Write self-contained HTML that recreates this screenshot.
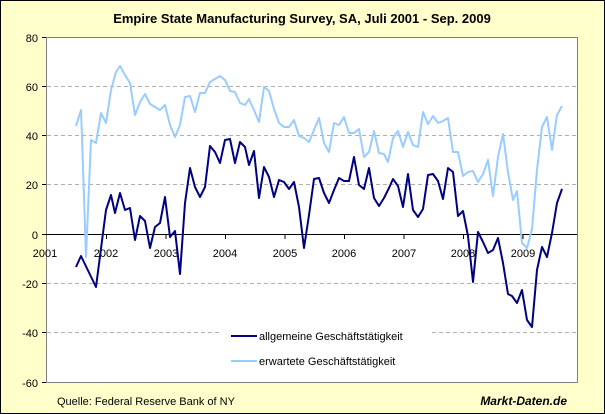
<!DOCTYPE html>
<html><head><meta charset="utf-8"><style>
body{margin:0;padding:0;background:#fff}
svg{display:block;font-family:"Liberation Sans",Arial,sans-serif}
</style></head><body>
<svg width="605" height="414" viewBox="0 0 605 414" xmlns="http://www.w3.org/2000/svg">
<rect x="0.5" y="0.5" width="604" height="413" fill="#FFFFCC" stroke="#000"/>
<text x="302" y="23" text-anchor="middle" font-size="13" font-weight="bold">Empire State Manufacturing Survey, SA, Juli 2001 - Sep. 2009</text>
<rect x="46.5" y="37.5" width="531" height="345" fill="#fff" stroke="#808080"/>
<g stroke="#b0b0b0" stroke-dasharray="4,3" stroke-width="1">
<line x1="47" x2="577" y1="86.5" y2="86.5"/>
<line x1="47" x2="577" y1="135.5" y2="135.5"/>
<line x1="47" x2="577" y1="184.5" y2="184.5"/>
<line x1="47" x2="577" y1="283.5" y2="283.5"/>
<line x1="47" x2="577" y1="332.5" y2="332.5"/>
</g>
<g stroke="#000">
<line x1="46" x2="577" y1="234.5" y2="234.5"/>
<line x1="42" x2="46" y1="37.5" y2="37.5"/><line x1="42" x2="46" y1="86.5" y2="86.5"/>
<line x1="42" x2="46" y1="135.5" y2="135.5"/><line x1="42" x2="46" y1="184.5" y2="184.5"/>
<line x1="42" x2="46" y1="234.5" y2="234.5"/><line x1="42" x2="46" y1="283.5" y2="283.5"/>
<line x1="42" x2="46" y1="332.5" y2="332.5"/><line x1="42" x2="46" y1="382.5" y2="382.5"/>
<line x1="106.5" x2="106.5" y1="234" y2="239"/><line x1="166" x2="166" y1="234" y2="239"/>
<line x1="225.5" x2="225.5" y1="234" y2="239"/><line x1="285" x2="285" y1="234" y2="239"/>
<line x1="344.5" x2="344.5" y1="234" y2="239"/><line x1="404" x2="404" y1="234" y2="239"/>
<line x1="463.5" x2="463.5" y1="234" y2="239"/><line x1="523" x2="523" y1="234" y2="239"/>
</g>
<g font-size="11" text-anchor="end">
<text x="38" y="42">80</text><text x="38" y="91">60</text><text x="38" y="140">40</text>
<text x="38" y="189">20</text><text x="38" y="239">0</text><text x="38" y="288">-20</text>
<text x="38" y="337">-40</text><text x="38" y="387">-60</text>
</g>
<g font-size="11" text-anchor="middle">
<text x="45" y="257">2001</text><text x="106" y="257">2002</text><text x="166" y="257">2003</text>
<text x="225" y="257">2004</text><text x="285" y="257">2005</text><text x="344" y="257">2006</text>
<text x="404" y="257">2007</text><text x="463" y="257">2008</text><text x="523" y="257">2009</text>
</g>
<polyline fill="none" stroke="#99CCFF" stroke-width="2" stroke-linejoin="round" points="76,126 81,110 82,137 86,257 91,140 96,143 101,113 106,123 111,90 116,72 120,66 125,75 130,83 135,115 140,102 145,94 150,104 155,107 160,110 165,105 170,125 175,137 180,125 185,97 190,96 195,112 200,93 205,93 210,82 215,79 220,76 225,80 230,91 235,92 240,103 245,105 249,99 254,110 259,122 264,87 269,91 274,109 279,123 284,127 289,127 294,120 299,136 304,138 309,142 314,130 319,118 324,143 329,152 334,123 339,125 344,117 349,133 354,133 359,129 364,157 369,152 374,131 379,153 384,154 388,162 393,138 398,131 403,147 408,132 413,145 418,147 423,112 428,124 433,116 438,123 443,121 448,118 453,152 458,152 463,176 468,172 473,171 478,182 483,174 488,160 493,196 498,157 503,134 508,172 513,200 517,191 522,243 527,248 532,229 537,170 542,127 547,117 552,150 557,115 562,106"/>
<polyline fill="none" stroke="#000080" stroke-width="2" stroke-linejoin="round" points="76,267 81,256 96,287 106,210 111,195 115,213 120,193 125,210 130,208 135,240 140,216 145,221 150,248 155,227 160,223 165,197 170,237 175,231 180,274 185,203 190,168 195,187 200,197 205,187 210,146 215,152 220,163 225,140 230,139 235,163 240,142 245,147 249,165 254,151 259,198 264,167 269,177 274,197 279,180 284,182 289,189 294,182 299,207 304,248 309,215 314,179 319,178 324,193 329,203 334,190 339,178 344,181 349,181 354,157 359,185 364,189 369,168 374,198 379,206 384,198 389,188 393,179 398,186 403,207 408,174 413,210 418,217 423,209 428,175 433,174 438,181 443,199 448,168 453,172 458,216 463,211 468,236 473,282 478,232 483,242 488,253 493,250 498,238 503,263 508,294 512,296 517,303 522,290 527,320 532,327 537,270 542,247 547,257 552,233 557,203 562,189"/>
<rect x="222" y="324" width="208" height="48" fill="#fff"/>
<line x1="231" x2="257" y1="336" y2="336" stroke="#000080" stroke-width="2"/>
<line x1="231" x2="257" y1="361" y2="361" stroke="#99CCFF" stroke-width="2"/>
<text x="259" y="340" font-size="11">allgemeine Geschäftstätigkeit</text>
<text x="259" y="365" font-size="11">erwartete Geschäftstätigkeit</text>
<text x="57" y="405" font-size="11">Quelle: Federal Reserve Bank of NY</text>
<text x="567" y="405" font-size="12" font-weight="bold" font-style="italic" text-anchor="end">Markt-Daten.de</text>
</svg>
</body></html>
